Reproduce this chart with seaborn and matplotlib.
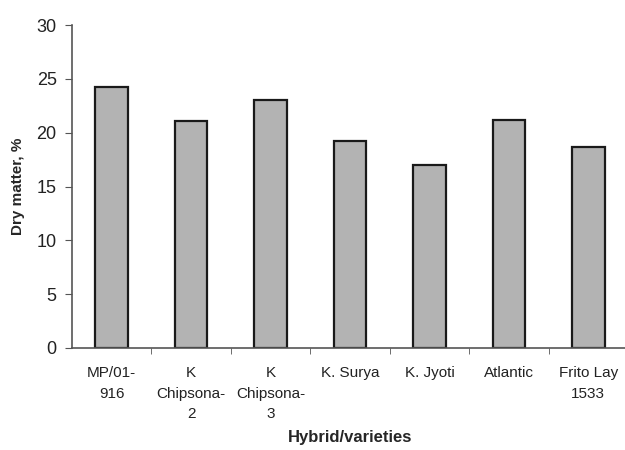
import numpy as np
import pandas as pd
import seaborn as sns
import matplotlib.pyplot as plt

# 품종별 건물 함량 (%)
varieties = ['MP/01-\n916', 'K\nChipsona-\n2', 'K\nChipsona-\n3', 'K. Surya',
             'K. Jyoti', 'Atlantic', 'Frito Lay\n1533']
dry_matter = [24.3, 21.1, 23.0, 19.2, 17.0, 21.2, 18.7]

df = pd.DataFrame({'variety': varieties, 'dry_matter': dry_matter})

sns.set_style('white')
plt.rcParams['font.family'] = ['Liberation Sans', 'DejaVu Sans']

fig = plt.figure(figsize=(6.25, 4.5), dpi=100)
ax = fig.add_axes([0.1152, 0.227, 0.8896, 0.717])

sns.barplot(data=df, x='variety', y='dry_matter', color='#b3b3b3',
            edgecolor='#1a1a1a', linewidth=1.6, width=0.41, saturation=1, ax=ax)

ax.set_ylim(0, 30)
ax.set_yticks(np.arange(0, 31, 5))
ax.set_xlim(-0.5, len(varieties) - 0.5)

# x축 눈금은 범주 사이에만
ax.set_xticks(np.arange(0.5, len(varieties) - 0.5, 1), minor=True)
ax.tick_params(axis='x', which='major', length=0, pad=13, labelsize=11, colors='#222222')
ax.tick_params(axis='x', which='minor', length=4, direction='out', color='#555555', bottom=True)
ax.tick_params(axis='y', length=5, direction='out', color='#555555', labelsize=13,
               labelcolor='#222222', left=True, pad=6)
for lab in ax.get_xticklabels():
    lab.set_linespacing(1.6)
    lab.set_verticalalignment('top')

for side in ['top', 'right']:
    ax.spines[side].set_visible(False)
for side in ['left', 'bottom']:
    ax.spines[side].set_color('#555555')
    ax.spines[side].set_linewidth(1.2)

ax.set_xlabel('Hybrid/varieties', fontsize=12, fontweight='bold')
ax.xaxis.set_label_coords(0.5, -0.278)
ax.xaxis.label.set_verticalalignment('center')
ax.set_ylabel('Dry matter, %', fontsize=11, fontweight='bold', labelpad=8)

fig.savefig('out.png', dpi=100)
